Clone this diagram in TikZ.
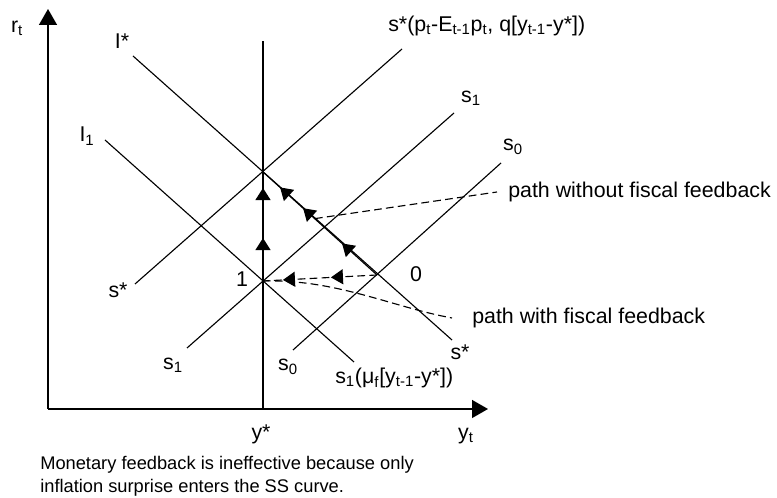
\documentclass[tikz,border=0pt]{standalone}
\usepackage{fontspec}
\setmainfont{Liberation Sans}
\usetikzlibrary{arrows.meta,decorations.markings}

\tikzset{
  curve/.style={line width=0.8pt},
  axis/.style={line width=1pt,-{Triangle[width=0.45cm,length=0.4cm]}},
  leader/.style={line width=0.8pt,dash pattern=on 5.5pt off 3pt},
  lbl/.style={inner sep=0pt,font=\fontsize{15.2}{18}\selectfont},
  note/.style={inner sep=0pt,anchor=west,font=\fontsize{13}{16}\selectfont},
  tipmark/.style={postaction={decorate,decoration={markings,
      mark=at position #1 with {\arrow{Triangle[width=0.375cm,length=0.3cm]}}}}}
}

\begin{document}
\begin{tikzpicture}
    \useasboundingbox (-1.2,-2.225) rectangle (18.225,10.225);
    % key points
    \coordinate (O) at (0,0);
    \coordinate (E) at (5.375,5.925);
    \coordinate (one) at (5.375,3.2);
    \coordinate (zero) at (8.225,3.35);
    \coordinate (wostart) at (6.675,4.76);

    % axes
    \draw[axis] (O) -- (0,10);
    \draw[axis] (O) -- (11,0);
    \draw[curve] (5.375,0) -- (5.375,9.2);

    % IS and SS curves
    \draw[curve] (2.125,8.825) -- (10.1,1.725);   % I*
    \draw[curve] (1.425,6.725) -- (7.65,1.175);   % I1
    \draw[curve] (2.175,3.125) -- (8.85,9.0);     % s*
    \draw[curve] (3.475,1.525) -- (10.15,7.4);    % s1
    \draw[curve] (6.125,1.475) -- (11.325,6.15);  % s0

    % labels
    \node[lbl] (rt) at (-0.775,9.525) {r\textsubscript{t}};
    \node[lbl] (Istar) at (1.85,9.2) {I*};
    \node[lbl] (Ione) at (0.975,6.825) {I\textsubscript{1}};
    \node[lbl,anchor=west] (sfull) at (8.5,9.58) {s*(p\textsubscript{t}-E\textsubscript{t-1}p\textsubscript{t}, q[y\textsubscript{t-1}-y*])};
    \node[lbl] (sonetop) at (10.575,7.775) {s\textsubscript{1}};
    \node[lbl] (szerotop) at (11.625,6.55) {s\textsubscript{0}};
    \node[lbl,anchor=west] (without) at (11.5,5.425) {path without fiscal feedback};
    \node[lbl] (lzero) at (9.2,3.375) {0};
    \node[lbl] (lone) at (4.85,3.25) {1};
    \node[lbl] (sstarleft) at (1.75,2.975) {s*};
    \node[lbl,anchor=west] (with) at (10.6,2.275) {path with fiscal feedback};
    \node[lbl] (sstarright) at (10.3,1.425) {s*};
    \node[lbl] (sonebot) at (3.125,1.1) {s\textsubscript{1}};
    \node[lbl] (szerobot) at (6.0,1.05) {s\textsubscript{0}};
    \node[lbl,anchor=west] (sonemu) at (7.175,0.775) {s\textsubscript{1}(μ\textsubscript{f}[y\textsubscript{t-1}-y*])};
    \node[lbl] (ystar) at (5.325,-0.625) {y*};
    \node[lbl] (yt) at (10.45,-0.675) {y\textsubscript{t}};
    \node[note] (cap1) at (-0.2,-1.4) {Monetary feedback is ineffective because only};
    \node[note] (cap2) at (-0.2,-1.975) {inflation surprise enters the SS curve.};

    % adjustment paths
    \draw[curve,tipmark=0.394,tipmark=0.853] (one) -- (E);
    \draw[curve,tipmark=0.307,tipmark=0.649,tipmark=0.851] (zero) -- (E);
    \draw[leader,tipmark=0.404,tipmark=0.825] (zero) -- (one);

    % leaders
    \draw[leader] (wostart) -- ([xshift=-0.275cm]without.west);
    \draw[leader] (one) .. controls (7.2,3.25) and (8.6,2.55) .. ([xshift=-0.5cm]with.west);
\end{tikzpicture}
\end{document}
